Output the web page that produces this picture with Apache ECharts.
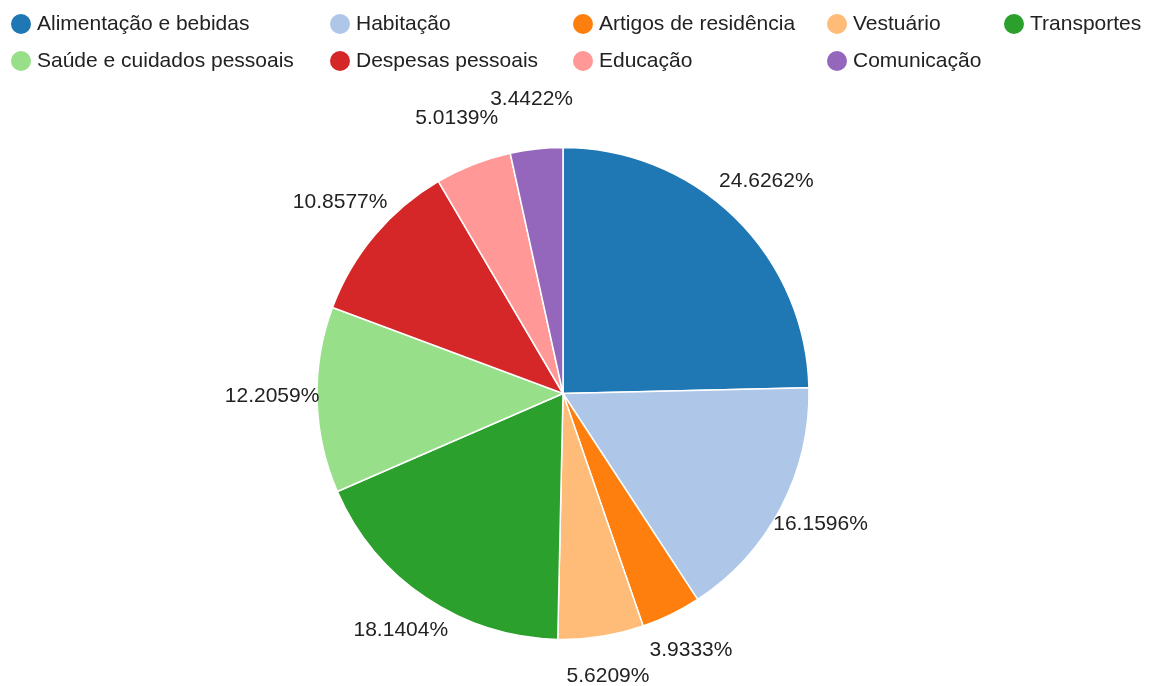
<!DOCTYPE html>
<html>
<head>
<meta charset="utf-8">
<script src="https://cdn.jsdelivr.net/npm/echarts@6/dist/echarts.min.js"></script>
<style>
  html, body { margin: 0; padding: 0; background: #fff; }
  #chart { width: 1153px; height: 686px; }
</style>
</head>
<body>
<div id="chart"></div>
<script>
const categories = [
  'Alimentação e bebidas', 'Habitação', 'Artigos de residência', 'Vestuário', 'Transportes',
  'Saúde e cuidados pessoais', 'Despesas pessoais', 'Educação', 'Comunicação'
];
const shares = [24.6262, 16.1596, 3.9333, 5.6209, 18.1404, 12.2059, 10.8577, 5.0139, 3.4422];
const colors = ['#1f77b4', '#aec7e8', '#ff7f0e', '#ffbb78', '#2ca02c', '#98df8a', '#d62728', '#ff9896', '#9467bd'];

// legend columns (the reference lays the legend out as a table)
const legendColumns = [
  ['Alimentação e bebidas', 'Saúde e cuidados pessoais'],
  ['Habitação', 'Despesas pessoais'],
  ['Artigos de residência', 'Educação'],
  ['Vestuário', 'Comunicação'],
  ['Transportes']
];
const columnLeft = [9, 328, 571, 825, 1002];

const font = '"Liberation Sans", Arial, sans-serif';
const pieData = categories.map((name, i) => ({ name, value: shares[i] }));

const chart = echarts.init(document.getElementById('chart'), null, { renderer: 'canvas' });

chart.setOption({
  backgroundColor: '#fff',
  animation: false,
  color: colors,
  legend: legendColumns.map((col, i) => ({
    data: col,
    orient: 'vertical',
    left: columnLeft[i],
    top: 12,
    padding: 0,
    itemGap: 13,
    itemWidth: 22,
    itemHeight: 22,
    icon: 'circle',
    textStyle: { fontFamily: font, fontSize: 21, color: '#222', lineHeight: 22 }
  })),
  series: [
    {
      name: 'share',
      type: 'pie',
      center: [563, 393.5],
      radius: 246,
      startAngle: 90,
      clockwise: true,
      data: pieData,
      label: { show: false },
      labelLine: { show: false },
      itemStyle: { borderColor: '#fff', borderWidth: 1.5 },
      emphasis: { scale: false }
    },
    {
      // transparent ring only used to position the percentage labels
      name: 'labels',
      type: 'pie',
      center: [563, 389],
      radius: [271, 305],
      startAngle: 90,
      clockwise: true,
      silent: true,
      avoidLabelOverlap: false,
      minShowLabelAngle: 0,
      labelLayout: { hideOverlap: false },
      data: pieData,
      itemStyle: { color: 'rgba(0,0,0,0)' },
      label: {
        show: true,
        position: 'inside',
        formatter: '{c}%',
        fontFamily: font,
        fontSize: 21,
        color: '#222'
      },
      labelLine: { show: false },
      emphasis: { disabled: true }
    }
  ]
});
</script>
</body>
</html>
